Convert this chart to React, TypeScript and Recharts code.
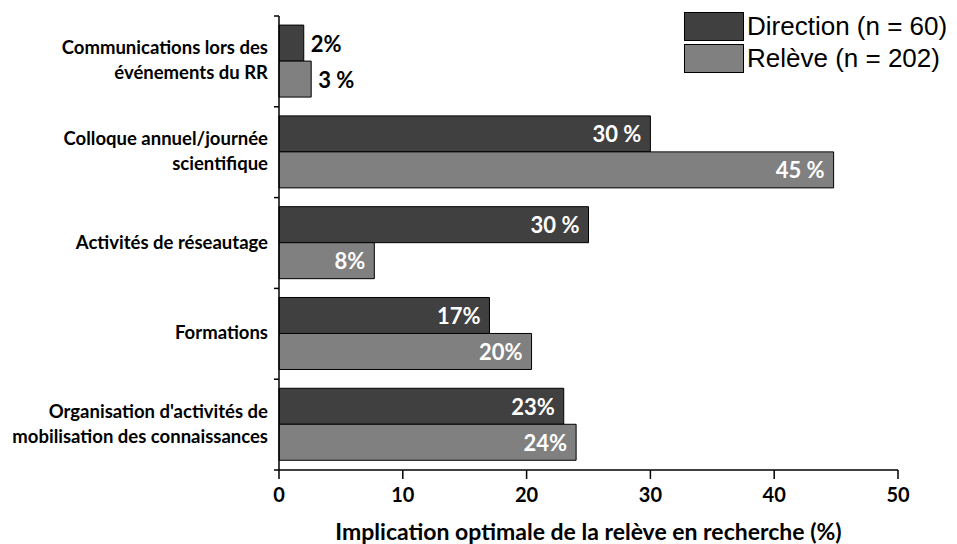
import React from 'react';
import { BarChart, Bar, XAxis, YAxis, Legend, LabelList, Label } from 'recharts';

const categories = [
  "Communications lors des\névénements du RR",
  "Colloque annuel/journée\nscientifique",
  "Activités de réseautage",
  "Formations",
  "Organisation d'activités de\nmobilisation des connaissances",
];
const direction = [2, 30, 25, 17, 23];
const releve = [2.6, 44.8, 7.7, 20.4, 24];
const directionLabels = ["2%", "30 %", "30 %", "17%", "23%"];
const releveLabels = ["3 %", "45 %", "8%", "20%", "24%"];
const xTicks = [0, 10, 20, 30, 40, 50];
const seriesNames = ["Direction (n = 60)", "Relève (n = 202)"];

const W = 957;
const H = 544;
const MARGIN = { top: 16, right: 59, bottom: 0, left: 0 };
const Y_AXIS_W = 279;
const X_AXIS_H = 74;
const BAND = (H - MARGIN.top - MARGIN.bottom - X_AXIS_H) / categories.length;

const DIR_COLOR = '#404040';
const REL_COLOR = '#808080';

const data = categories.map((name, i) => ({
  name,
  direction: direction[i],
  releve: releve[i],
}));

function CategoryTick(props: any) {
  const { y, payload, index } = props;
  const lines = String(payload.value).split('\n');
  const axisX = MARGIN.left + Y_AXIS_W;
  const lineH = 25;
  const start = y - 1.5 - ((lines.length - 1) * lineH) / 2;
  return (
    <g>
      <line x1={axisX - 5} x2={axisX} y1={y - BAND / 2} y2={y - BAND / 2} stroke="#000" strokeWidth={1.5} />
      {index === categories.length - 1 && (
        <line x1={axisX - 5} x2={axisX} y1={y + BAND / 2} y2={y + BAND / 2} stroke="#000" strokeWidth={1.5} />
      )}
      {lines.map((l, i) => (
        <text
          key={i}
          x={axisX - 11}
          y={start + i * lineH}
          textAnchor="end"
          dominantBaseline="central"
          fontFamily="Lato"
          fontWeight={700}
          fontSize={18.5}
          fill="#000"
        >
          {l}
        </text>
      ))}
    </g>
  );
}

const makeValueLabel = (labels: string[], values: number[]) => (props: any) => {
  const { x, y, width, height, index } = props;
  const outside = values[index] < 5;
  return (
    <text
      x={outside ? x + width + 7 : x + width - 9}
      y={y + height / 2}
      textAnchor={outside ? 'start' : 'end'}
      dominantBaseline="central"
      fontFamily="Lato"
      fontWeight={700}
      fontSize={22}
      fill={outside ? '#000' : '#fff'}
    >
      {labels[index]}
    </text>
  );
};

function LegendBox() {
  const colors = [DIR_COLOR, REL_COLOR];
  return (
    <div style={{ display: 'flex', flexDirection: 'column', gap: 4 }}>
      {seriesNames.map((n, i) => (
        <div key={n} style={{ display: 'flex', alignItems: 'center', height: 28 }}>
          <div style={{ width: 58, height: 27, background: colors[i], border: '1px solid #000', flexShrink: 0 }} />
          <span style={{ fontFamily: 'Liberation Sans', fontSize: 26, marginLeft: 3, color: '#000', whiteSpace: 'nowrap', lineHeight: '28px' }}>{n}</span>
        </div>
      ))}
    </div>
  );
}

export default function App() {
  return (
    <div style={{ width: W, height: H, background: '#fff' }}>
      <style>{'body{margin:0}'}</style>
      <BarChart
        width={W}
        height={H}
        data={data}
        layout="vertical"
        margin={MARGIN}
        barCategoryGap="10%"
        barGap={0}
      >
        <XAxis
          type="number"
          domain={[0, 50]}
          ticks={xTicks}
          height={X_AXIS_H}
          axisLine={{ stroke: '#000', strokeWidth: 1.5 }}
          tickLine={{ stroke: '#000', strokeWidth: 1.5 }}
          tickSize={9}
          tickMargin={9}
          tick={{ fill: '#000', fontFamily: 'Lato', fontWeight: 700, fontSize: 20 }}
        >
          <Label
            value="Implication optimale de la relève en recherche (%)"
            position="insideBottom"
            offset={4}
            style={{ fill: '#000', fontFamily: 'Lato', fontWeight: 700, fontSize: 23 }}
          />
        </XAxis>
        <YAxis
          type="category"
          dataKey="name"
          width={Y_AXIS_W}
          axisLine={{ stroke: '#000', strokeWidth: 1.5 }}
          tickLine={false}
          tick={<CategoryTick />}
          interval={0}
        />
        <Legend
          layout="vertical"
          align="center"
          verticalAlign="middle"
          wrapperStyle={{ top: 12, left: 684, width: 273 }}
          content={() => <LegendBox />}
        />
        <Bar dataKey="direction" name={seriesNames[0]} fill={DIR_COLOR} stroke="#000" strokeWidth={1} isAnimationActive={false}>
          <LabelList dataKey="direction" content={makeValueLabel(directionLabels, direction)} />
        </Bar>
        <Bar dataKey="releve" name={seriesNames[1]} fill={REL_COLOR} stroke="#000" strokeWidth={1} isAnimationActive={false}>
          <LabelList dataKey="releve" content={makeValueLabel(releveLabels, releve)} />
        </Bar>
      </BarChart>
    </div>
  );
}
